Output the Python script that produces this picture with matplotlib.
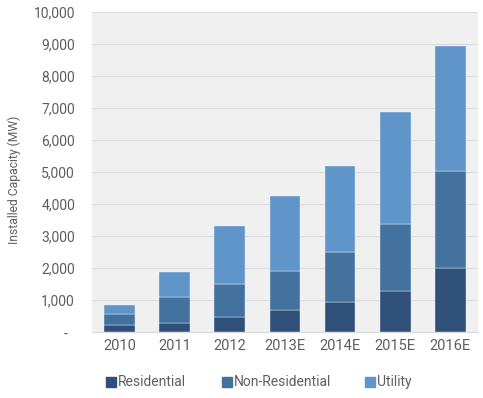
import matplotlib
matplotlib.use("Agg")
import matplotlib.pyplot as plt
import numpy as np
from matplotlib.patches import Rectangle

categories = ["2010", "2011", "2012", "2013E", "2014E", "2015E", "2016E"]
residential = [230, 290, 480, 690, 940, 1290, 2010]
non_residential = [330, 800, 1030, 1230, 1560, 2085, 3030]
utility = [270, 785, 1800, 2340, 2690, 3500, 3910]
series_names = ["Residential", "Non-Residential", "Utility"]
yticks = [0, 1000, 2000, 3000, 4000, 5000, 6000, 7000, 8000, 9000, 10000]
ytick_labels = ["-  ", "1,000", "2,000", "3,000", "4,000", "5,000", "6,000",
                "7,000", "8,000", "9,000", "10,000"]

plt.rcParams['font.family'] = ['Roboto', 'DejaVu Sans']

c_res = "#2F5078"
c_non = "#44729F"
c_uti = "#6095C9"
colors = [c_res, c_non, c_uti]
txt = "#5E5E5E"

W, H = 483, 398
fig = plt.figure(figsize=(W / 100, H / 100), dpi=100)
ax = fig.add_axes([91.7 / W, (H - 332) / H, (477.7 - 91.7) / W, (332 - 12) / H])
ax.set_facecolor("#F0F0F0")

x = np.arange(len(categories))
w = 0.56
res = np.array(residential)
non = np.array(non_residential)
uti = np.array(utility)
ax.bar(x, res, w, color=c_res, zorder=3, edgecolor="#e8eef5", linewidth=0.3)
ax.bar(x, non, w, bottom=res, color=c_non, zorder=3, edgecolor="#e8eef5", linewidth=0.3)
ax.bar(x, uti, w, bottom=res + non, color=c_uti, zorder=3, edgecolor="#e8eef5", linewidth=0.3)

ax.set_xlim(-0.51, 6.5)
ax.set_ylim(0, 10000)
ax.set_yticks(yticks)
ax.set_yticklabels(ytick_labels, fontsize=10, color=txt)
ax.set_xticks(x)
ax.set_xticklabels(categories, fontsize=10.5, color=txt)
ax.tick_params(axis='both', length=0)
ax.tick_params(axis='y', pad=12)
ax.tick_params(axis='x', pad=5)
ax.grid(axis='y', color="#DADADF", linewidth=0.8, zorder=1)
for s in ["top", "right", "left"]:
    ax.spines[s].set_visible(False)
ax.spines["bottom"].set_color("#DADADF")
ax.set_ylabel("Installed Capacity (MW)", fontsize=8.7, color=txt, va="center")
ax.yaxis.set_label_coords((14 - 91.7) / (477.7 - 91.7), (332 - 180) / 320)

# legend (manual placement)
sq_x = [106, 222, 365]
yc = 381.7
for xs, col, name in zip(sq_x, colors, series_names):
    fig.patches.append(Rectangle((xs / W, (H - yc - 5) / H), 10 / W, 10 / H,
                                 transform=fig.transFigure, color=col, figure=fig))
    fig.text((xs + 12) / W, (H - yc) / H, name, fontsize=10, color=txt,
             va="center", ha="left")

fig.savefig("out.png", dpi=100)
